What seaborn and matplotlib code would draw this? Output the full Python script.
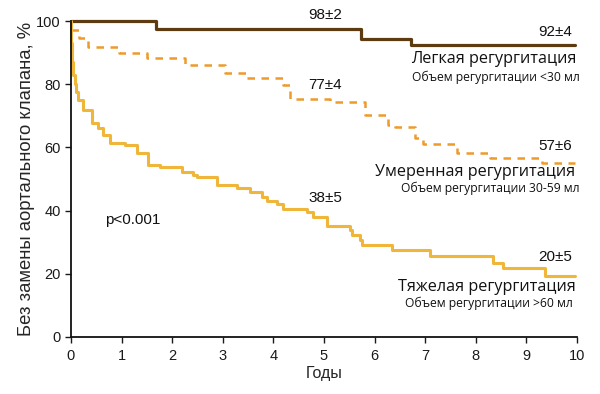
import matplotlib
matplotlib.use("Agg")
import matplotlib.pyplot as plt
import seaborn as sns
import pandas as pd

# ---- data ----
light_t = [0, 1.68, 5.73, 6.72, 9.96]
light_s = [100, 97.5, 94.3, 92.5, 92.5]

moderate_t = [0, 0.15, 0.34, 0.95, 1.5, 2.25, 3.04, 3.48, 4.19, 4.33, 5.12,
              5.81, 6.27, 6.4, 6.8, 6.96, 7.63, 8.28, 9.3, 9.96]
moderate_s = [97, 94.5, 91.9, 90, 88.3, 86, 83.6, 81.9, 79.7, 75.2, 74.5,
              70.3, 67, 66.5, 63, 61, 58.3, 56.7, 55, 55]

severe_t = [0, 0.01, 0.02, 0.04, 0.07, 0.1, 0.14, 0.24, 0.41, 0.53, 0.63, 0.77,
            1.07, 1.3, 1.52, 1.76, 2.19, 2.41, 2.49, 2.88, 3.28, 3.54, 3.77, 3.87,
            4.07, 4.19, 4.66, 4.78, 5.06, 5.51, 5.55, 5.71, 5.75, 6.34, 7.09,
            8.34, 8.54, 9.37, 9.96]
severe_s = [100, 93, 87, 83, 80, 77.5, 75, 71.8, 67.6, 66, 64, 61.3,
            60.8, 58.2, 54.4, 53.8, 52.2, 51.3, 50.6, 48.1, 47.1, 45.9, 44.3, 43,
            42, 40.5, 39.6, 38, 35.1, 33.9, 32.3, 30.7, 29.1, 27.5, 25.6,
            23.4, 21.8, 19.3, 19.3]

x_ticks = list(range(0, 11))
y_ticks = [0, 20, 40, 60, 80, 100]

group_names = ["Легкая регургитация", "Умеренная регургитация", "Тяжелая регургитация"]
group_sub = ["Объем регургитации <30 мл", "Объем регургитации 30-59 мл",
             "Объем регургитации >60 мл"]
mid_labels = ["98±2", "77±4", "38±5"]
end_labels = ["92±4", "57±6", "20±5"]
p_text = "p<0.001"

# ---- style ----
sns.set_style("ticks")
plt.rcParams["font.family"] = ["Liberation Sans", "DejaVu Sans"]

c_light = "#5C3B10"
c_mod = "#EE9B2C"
c_sev = "#F0B63A"

fig = plt.figure(figsize=(6.0, 3.94), dpi=100)
ax = fig.add_axes([0.1183, 0.1447, 0.8434, 0.802])

df_l = pd.DataFrame({"t": light_t, "s": light_s})
df_m = pd.DataFrame({"t": moderate_t, "s": moderate_s})
df_s = pd.DataFrame({"t": severe_t, "s": severe_s})

sns.lineplot(data=df_l, x="t", y="s", ax=ax, color=c_light, lw=2.3,
             drawstyle="steps-post", estimator=None, sort=False, clip_on=False)
sns.lineplot(data=df_m, x="t", y="s", ax=ax, color=c_mod, lw=1.8,
             drawstyle="steps-post", estimator=None, sort=False,
             linestyle=(0, (3.0, 2.6)), clip_on=False)
sns.lineplot(data=df_s, x="t", y="s", ax=ax, color=c_sev, lw=2.2,
             drawstyle="steps-post", estimator=None, sort=False, clip_on=False)

ax.set_xlim(0, 10)
ax.set_ylim(0, 100)
ax.set_xticks(x_ticks)
ax.set_yticks(y_ticks)
ax.tick_params(axis="both", labelsize=10.5, colors="#1a1a1a", length=4, width=1,
               direction="out")
ax.tick_params(axis="x", pad=5)
for sp in ["left", "bottom"]:
    ax.spines[sp].set_linewidth(1.3)
    ax.spines[sp].set_color("#111111")
sns.despine(ax=ax)
ax.set_xlabel("Годы", fontsize=11.5, labelpad=2)
ax.set_ylabel("Без замены аортального клапана, %", fontsize=13.3, labelpad=1)

num_kw = dict(fontsize=11, color="#111111", clip_on=False)
ax.text(5.02, 101.9, mid_labels[0], ha="center", va="center", **num_kw)
ax.text(5.02, 79.8, mid_labels[1], ha="center", va="center", **num_kw)
ax.text(5.02, 44.0, mid_labels[2], ha="center", va="center", **num_kw)
ax.text(9.9, 96.5, end_labels[0], ha="right", va="center", **num_kw)
ax.text(9.9, 60.4, end_labels[1], ha="right", va="center", **num_kw)
ax.text(9.9, 25.3, end_labels[2], ha="right", va="center", **num_kw)
ax.text(0.67, 37.0, p_text, ha="left", va="center", **num_kw)

name_kw = dict(fontsize=11.6, color="#111111", family=["Open Sans", "DejaVu Sans"],
               ha="right", va="center", clip_on=False)
sub_kw = dict(fontsize=8.7, color="#111111", family=["Open Sans", "DejaVu Sans"],
              ha="right", va="center", clip_on=False)
ax.text(9.98, 88.0, group_names[0], **name_kw)
ax.text(10.05, 82.3, group_sub[0], **sub_kw)
ax.text(9.96, 52.2, group_names[1], **name_kw)
ax.text(10.05, 47.1, group_sub[1], **sub_kw)
ax.text(9.98, 15.8, group_names[2], **name_kw)
ax.text(9.92, 10.7, group_sub[2], **sub_kw)

fig.savefig("out.png", dpi=100)
